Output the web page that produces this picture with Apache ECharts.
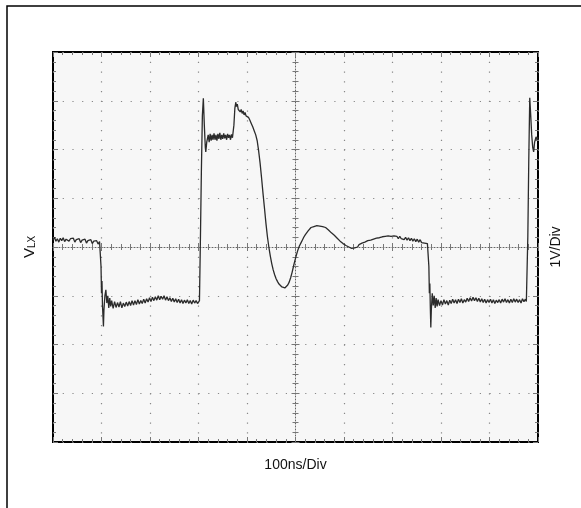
<!DOCTYPE html>
<html>
<head>
<meta charset="utf-8">
<script src="https://cdn.jsdelivr.net/npm/echarts@6/dist/echarts.min.js"></script>
<style>
html,body{margin:0;padding:0;background:#fff;}
#c{width:581px;height:508px;}
</style>
</head>
<body>
<div id="c"></div>
<script>
// Time axis (ns) and V_LX trace (V, 1V/div, 0 at centre line)
const timeNs = [
0,3,6,9,12,15,18,21,24,27,30,33,36,39,42,45,48,51,54,57,60,63,66,69,72,75,78,81,84,87,90,93,96,98,
99,100,101,102,104,105,107,109,111,113,115,117,119,121,124,127,130,133,136,139,142,145,148,151,154,157,160,163,166,169,172,175,178,181,184,187,190,193,196,199,202,205,208,211,214,217,220,223,226,229,232,235,238,241,244,247,250,253,256,259,262,265,268,271,274,277,280,283,286,289,292,295,298,300,
302,304,306,308,310,312,314,315,317,320,322,324,326,328,330,332,334,336,338,340,342,344,346,348,350,352,354,356,358,360,362,364,366,368,370,372,
373,375,377,378,380,382,384,386,388,390,392,394,396,398,400,403,406,409,412,415,418,421,424,427,430,433,436,439,442,445,448,451,454,457,460,463,466,469,472,475,478,481,484,487,490,493,496,499,502,505,508,511,514,517,520,523,526,529,532,535,538,541,544,547,550,553,556,559,562,565,568,571,574,577,580,583,586,589,592,595,598,601,604,607,610,613,616,619,622,625,628,631,634,637,640,643,646,649,652,655,658,661,664,667,670,673,676,679,682,685,688,691,694,697,700,703,706,709,712,715,718,721,724,727,730,733,736,739,742,745,748,751,754,757,760,763,766,769,772,774,
775,776,777,778,779,780,782,784,786,788,790,792,794,797,800,803,806,809,812,815,818,821,824,827,830,833,836,839,842,845,848,851,854,857,860,863,866,869,872,875,878,881,884,887,890,893,896,899,902,905,908,911,914,917,920,923,926,929,932,935,938,941,944,947,950,953,956,959,962,965,968,971,974,976,
977,979,981,983,985,987,989,991,993,996,998,1000
];
const vlx = [
0.14,0.2,0.12,0.17,0.1,0.18,0.13,0.19,0.11,0.16,0.2,0.12,0.17,0.13,0.18,0.1,0.15,0.12,0.17,0.09,0.14,0.11,0.16,0.08,0.13,0.1,0.15,0.07,0.12,0.09,0.13,0.06,0.11,0.08,
-0.4,-0.95,-0.7,-1.2,-1.63,-1.3,-1.0,-0.88,-1.15,-1.0,-1.25,-1.05,-1.22,-1.1,-1.26,-1.12,-1.24,-1.14,-1.23,-1.12,-1.25,-1.15,-1.22,-1.13,-1.21,-1.12,-1.2,-1.1,-1.19,-1.1,-1.18,-1.08,-1.17,-1.1,-1.16,-1.07,-1.15,-1.06,-1.13,-1.04,-1.12,-1.03,-1.1,-1.02,-1.09,-1.0,-1.08,-1.01,-1.07,-1.0,-1.09,-1.02,-1.1,-1.04,-1.12,-1.05,-1.13,-1.06,-1.14,-1.07,-1.15,-1.08,-1.16,-1.09,-1.15,-1.08,-1.16,-1.1,-1.17,-1.09,-1.15,-1.1,-1.16,-1.12,
-1.1,0.2,1.6,2.7,3.05,2.5,2.05,1.95,2.15,2.3,2.15,2.32,2.18,2.3,2.2,2.33,2.2,2.3,2.18,2.32,2.22,2.34,2.2,2.3,2.22,2.33,2.23,2.3,2.2,2.32,2.24,2.3,2.2,2.31,2.24,2.28,
2.5,2.85,2.97,2.88,2.93,2.82,2.86,2.77,2.82,2.74,2.79,2.71,2.76,2.69,2.72,2.66,2.6,2.53,2.46,2.38,2.3,2.18,1.97,1.72,1.42,1.1,0.8,0.49,0.22,0.0,-0.18,-0.34,-0.47,-0.57,-0.65,-0.71,-0.76,-0.8,-0.82,-0.83,-0.84,-0.82,-0.78,-0.72,-0.63,-0.52,-0.39,-0.27,-0.16,-0.06,0.02,0.08,0.14,0.2,0.25,0.29,0.33,0.37,0.4,0.43,0.42,0.46,0.44,0.47,0.43,0.46,0.42,0.44,0.4,0.38,0.35,0.33,0.29,0.28,0.24,0.22,0.18,0.16,0.12,0.11,0.07,0.07,0.03,0.04,0.0,0.01,-0.03,-0.01,-0.02,0.02,0.0,0.05,0.03,0.08,0.06,0.1,0.08,0.13,0.1,0.14,0.12,0.16,0.13,0.18,0.15,0.19,0.16,0.21,0.17,0.22,0.18,0.23,0.19,0.22,0.18,0.23,0.19,0.22,0.17,0.22,0.17,0.21,0.15,0.2,0.14,0.19,0.13,0.18,0.12,0.17,0.11,0.16,0.1,0.15,0.09,0.13,0.08,0.12,0.07,0.08,
-0.4,-0.95,-0.75,-1.25,-1.65,-1.3,-0.95,-1.2,-1.0,-1.25,-1.05,-1.22,-1.08,-1.2,-1.1,-1.19,-1.08,-1.17,-1.1,-1.19,-1.09,-1.16,-1.07,-1.15,-1.08,-1.16,-1.07,-1.14,-1.06,-1.15,-1.08,-1.13,-1.05,-1.12,-1.04,-1.11,-1.03,-1.1,-1.04,-1.12,-1.05,-1.13,-1.06,-1.14,-1.07,-1.15,-1.08,-1.14,-1.07,-1.15,-1.08,-1.16,-1.09,-1.14,-1.08,-1.15,-1.07,-1.13,-1.06,-1.14,-1.08,-1.15,-1.07,-1.14,-1.06,-1.13,-1.07,-1.14,-1.08,-1.15,-1.06,-1.12,-1.07,-1.12,
-1.1,0.2,1.8,3.06,2.7,2.3,2.05,1.95,2.15,2.26,2.2,2.25
];
const xTitle = '100ns/Div';
const yTitleLeft = '{v|V}{s|LX}';
const yTitleRight = '1V/Div';

const trace = timeNs.map((t, i) => [t, vlx[i]]);

const tickColor = '#777';
function xAx(pos, offset, inside, extra) {
  return Object.assign({
    type: 'value', min: 0, max: 1000, interval: 100, position: pos, offset: offset,
    axisLine: { show: false, onZero: false },
    axisTick: { show: true, inside: inside, length: 5, lineStyle: { color: tickColor, width: 1 } },
    minorTick: { show: true, splitNumber: 5, length: 3, lineStyle: { color: tickColor, width: 1 } },
    axisLabel: { show: false },
    splitLine: { show: false }
  }, extra || {});
}
function yAx(pos, offset, inside, extra) {
  return Object.assign({
    type: 'value', min: -4, max: 4, interval: 1, position: pos, offset: offset,
    axisLine: { show: false, onZero: false },
    axisTick: { show: true, inside: inside, length: 5, lineStyle: { color: tickColor, width: 1 } },
    minorTick: { show: true, splitNumber: 5, length: 3, lineStyle: { color: tickColor, width: 1 } },
    axisLabel: { show: false },
    splitLine: { show: false }
  }, extra || {});
}
const centerLine = { show: true, onZero: false, lineStyle: { color: '#666', width: 1, type: [1, 2] } };

const chart = echarts.init(document.getElementById('c'), null, { renderer: 'canvas' });
chart.setOption({
  animation: false,
  backgroundColor: '#fff',
  grid: { left: 53, top: 52, width: 485, height: 390, show: true, backgroundColor: '#f7f7f7', borderColor: '#000', borderWidth: 2 },
  graphic: [{
    type: 'rect', silent: true, z: -1,
    shape: { x: 7, y: 6, width: 620, height: 540 },
    style: { fill: 'none', stroke: '#000', lineWidth: 1.5 }
  }],
  xAxis: [
    xAx('bottom', 0, true, {
      name: xTitle, nameLocation: 'middle', nameGap: 16,
      nameTextStyle: { fontFamily: 'Liberation Sans', fontSize: 14, color: '#111' },
      splitLine: { show: true, lineStyle: { color: '#888', width: 1.2, type: [1.2, 8.55] } }
    }),
    xAx('top', 0, true),
    xAx('bottom', -195, false, { axisLine: centerLine, axisTick: { show: true, length: 4, lineStyle: { color: tickColor } }, minorTick: { show: true, splitNumber: 5, length: 3, lineStyle: { color: tickColor } } }),
    xAx('top', -195, false, { axisTick: { show: true, length: 4, lineStyle: { color: tickColor } }, minorTick: { show: true, splitNumber: 5, length: 3, lineStyle: { color: tickColor } } })
  ],
  yAxis: [
    yAx('left', 0, true, {
      name: yTitleLeft, nameLocation: 'middle', nameGap: 16, nameRotate: 90,
      nameTextStyle: {
        color: '#111',
        rich: {
          v: { fontFamily: 'Liberation Sans', fontSize: 15, color: '#111', verticalAlign: 'bottom', lineHeight: 18 },
          s: { fontFamily: 'Liberation Sans', fontSize: 10, color: '#111', verticalAlign: 'bottom', lineHeight: 12 }
        }
      },
      splitLine: { show: true, lineStyle: { color: '#888', width: 1.2, type: [1.2, 8.5] } }
    }),
    yAx('right', 0, true, {
      name: yTitleRight, nameLocation: 'middle', nameGap: 11, nameRotate: 90,
      nameTextStyle: { fontFamily: 'Liberation Sans', fontSize: 14, color: '#111' }
    }),
    yAx('left', -242.5, false, { axisLine: centerLine, axisTick: { show: true, length: 4, lineStyle: { color: tickColor } }, minorTick: { show: true, splitNumber: 5, length: 3, lineStyle: { color: tickColor } } }),
    yAx('right', -242.5, false, { axisTick: { show: true, length: 4, lineStyle: { color: tickColor } }, minorTick: { show: true, splitNumber: 5, length: 3, lineStyle: { color: tickColor } } })
  ],
  series: [{
    type: 'line',
    xAxisIndex: 0, yAxisIndex: 0,
    data: trace,
    showSymbol: false,
    symbol: 'none',
    lineStyle: { color: '#2b2b2b', width: 1.3 },
    z: 5
  }]
});
</script>
</body>
</html>
